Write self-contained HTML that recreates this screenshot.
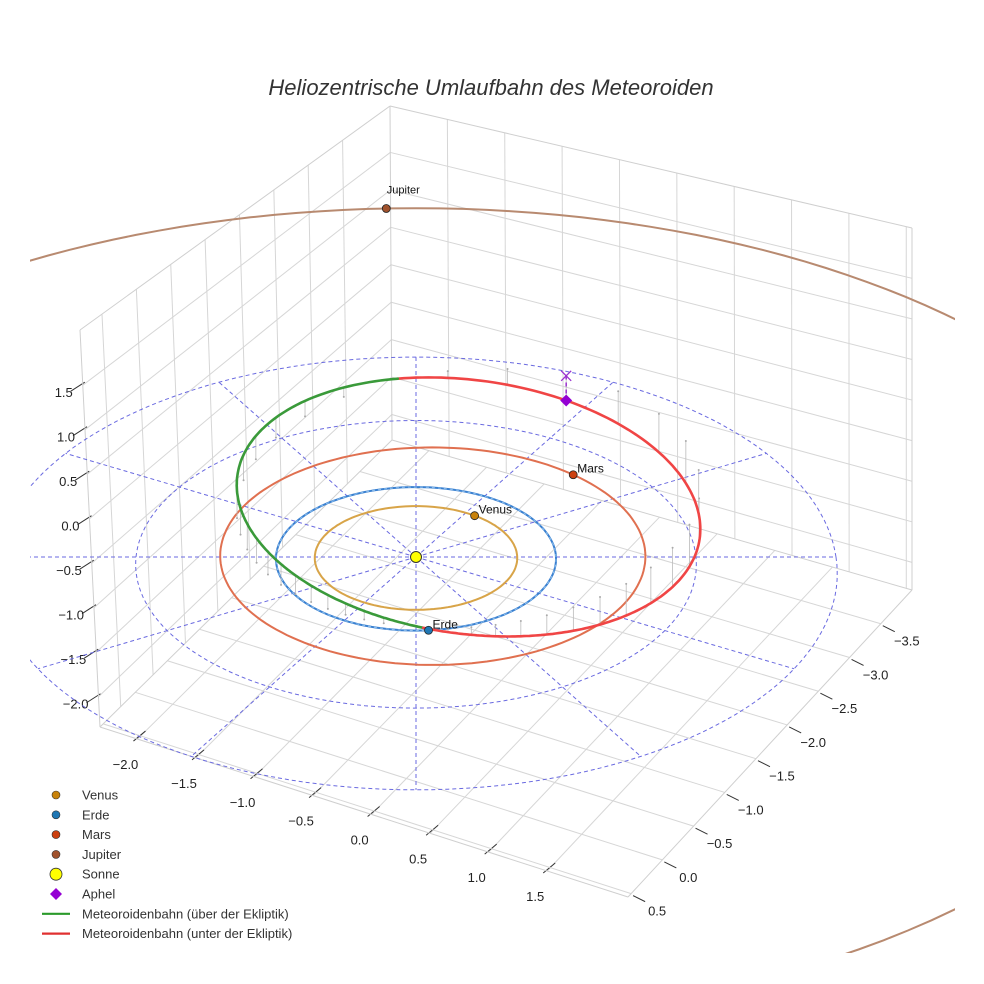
<!DOCTYPE html>
<html><head><meta charset="utf-8">
<style>
html,body{margin:0;padding:0;background:#fff;}
svg{display:block;font-family:"Liberation Sans",sans-serif;}
</style></head>
<body>
<svg id="chart" width="984" height="984" viewBox="0 0 984 984">
<defs><clipPath id="clip"><rect x="30" y="0" width="925" height="953"/></clipPath></defs>
<rect width="984" height="984" fill="#fff"/>
<text x="491" y="95" text-anchor="middle" font-size="22" font-style="italic" fill="#333">Heliozentrische Umlaufbahn des Meteoroiden</text>
<g id="grid"></g>
<g id="plot" clip-path="url(#clip)"></g>
<g id="legend"></g>
</svg>
<script>
// ---- data ----
const planetNames = ["Venus","Erde","Mars","Jupiter"];
const orbitRadius = [0.723, 1.0, 1.52, 5.55];
const orbitCenterX = [0, 0, 0.12, 0];
const orbitCenterY = [0, 0, 0.07, 0];
const planetAngle = [54, -85, 47, 92.5];
const planetColor = ["#c8820a","#1f77b4","#cc4010","#a0522d"];
const orbitColor = ["#d8a448","#3a80d0","#e07050","#b88a70"];
const meteorA = 1.93, meteorE = 0.52, meteorPeriLon = 247, meteorNode = 25, meteorSinI = 0.266;
const refRings = [2, 3];
const radialAngles = [0,30,60,90,120,150,180,210,240,270,300,330];
const axis1Ticks = ["−2.0","−1.5","−1.0","−0.5","0.0","0.5","1.0","1.5"];
const axis1Vals = [-2,-1.5,-1,-0.5,0,0.5,1,1.5];
const axis2Ticks = ["0.5","0.0","−0.5","−1.0","−1.5","−2.0","−2.5","−3.0","−3.5"];
const axis2Vals = [0.5,0,-0.5,-1,-1.5,-2,-2.5,-3,-3.5];
const zTicks = ["1.5","1.0","0.5","0.0","−0.5","−1.0","−1.5","−2.0"];
const zVals = [1.5,1,0.5,0,-0.5,-1,-1.5,-2];

// ---- projection ----
const D = 39.4, CX = 416, CY = 557, SX = 140, SY = 71.7, SZ = 80;
function proj(x,y,z){ const f = D/(D+y); return [CX+SX*x*f, CY-(SY*y+SZ*z)*f]; }
const NS="http://www.w3.org/2000/svg";
function mk(tag,attrs,parent){const e=document.createElementNS(NS,tag);for(const k in attrs)e.setAttribute(k,attrs[k]);parent.appendChild(e);return e;}
const grid=document.getElementById('grid'), plot=document.getElementById('plot'), legend=document.getElementById('legend');

// ---- box ----
const TL=[80,330],TB=[390,106],TR=[912,228],BL=[100,727],BB=[392,440],BR=[912,590],BF=[628,897];
function lerp(a,b,t){return [a[0]+(b[0]-a[0])*t,a[1]+(b[1]-a[1])*t];}
function gl(p,q,c,w){const l=mk('line',{x1:p[0],y1:p[1],x2:q[0],y2:q[1],stroke:c||'#d6d6d6','stroke-width':w||1},grid);return l;}
const a1lo=-2.32,a1hi=2.19, a2lo=0.55,a2hi=-4.0, zlo=-2.34,zhi=2.12;
axis1Vals.forEach((v,i)=>{const t=(v-a1lo)/(a1hi-a1lo);
  const l1=gl(lerp(BL,BF,t),lerp(BB,BR,t));  
  const l2=gl(lerp(BL,BB,t),lerp(TL,TB,t));  
  const p=lerp(BL,BF,t); const tk=gl([p[0]-4,p[1]+2],[p[0]+8,p[1]-8],'#333',1);  
  const tx=mk('text',{x:p[0]-12,y:p[1]+30,'font-size':13,fill:'#222','text-anchor':'middle'},grid); tx.textContent=axis1Ticks[i];
   });
axis2Vals.forEach((v,i)=>{const s=(v-a2lo)/(a2hi-a2lo);
  const l1=gl(lerp(BF,BR,s),lerp(BL,BB,s));  
  const l2=gl(lerp(BB,BR,1-s),lerp(TB,TR,1-s));  
  const p=lerp(BF,BR,s); const tk=gl([p[0]+2,p[1]+2],[p[0]+14,p[1]+8],'#333',1);  
  const tx=mk('text',{x:p[0]+26,y:p[1]+22,'font-size':13,fill:'#222','text-anchor':'middle'},grid); tx.textContent=axis2Ticks[i];
   });
zVals.forEach((v,i)=>{const t=(v-zlo)/(zhi-zlo);
  const l1=gl(lerp(BL,TL,t),lerp(BB,TB,t));  
  const l2=gl(lerp(BB,TB,t),lerp(BR,TR,t));  
  const p=lerp(BL,TL,t); const tk=gl([p[0]-12,p[1]+6],[p[0]+2,p[1]-3],'#333',1);  
  const tx=mk('text',{x:p[0]-10,y:p[1]+12,'font-size':13,fill:'#222','text-anchor':'end'},grid); tx.textContent=zTicks[i];
   });
[[BL,BF],[BF,BR],[BL,BB],[BB,BR],[BL,TL],[BB,TB],[BR,TR],[TL,TB],[TB,TR]].forEach(e=>{const l=gl(e[0],e[1],'#cfcfcf',1);
   });

// ---- helpers ----
function pathFrom(pts){return pts.map((p,i)=>(i?'L':'M')+p[0].toFixed(1)+' '+p[1].toFixed(1)).join(' ');}
function circlePts(cx,cy,r){const pts=[];for(let a=0;a<=360;a+=2){const t=a*Math.PI/180;pts.push(proj(cx+r*Math.cos(t),cy+r*Math.sin(t),0));}return pts;}

// reference rings & radials
refRings.forEach(r=>{const p=mk('path',{d:pathFrom(circlePts(0,0,r)),fill:'none',stroke:'#6a6ae0','stroke-width':1,'stroke-dasharray':'4 3'},plot);
   });
radialAngles.forEach(a=>{const t=a*Math.PI/180, R=refRings[refRings.length-1];const p0=proj(0,0,0),p1=proj(R*Math.cos(t),R*Math.sin(t),0);
  const l=mk('line',{x1:p0[0],y1:p0[1],x2:p1[0],y2:p1[1],stroke:'#6a6ae0','stroke-width':1,'stroke-dasharray':'4 3'},plot);
   });

// planet orbits
planetNames.forEach((n,i)=>{const p=mk('path',{d:pathFrom(circlePts(orbitCenterX[i],orbitCenterY[i],orbitRadius[i])),fill:'none',stroke:orbitColor[i],'stroke-width':2},plot);
   });
const ed=mk('path',{d:pathFrom(circlePts(0,0,1)),fill:'none',stroke:'#8fc0ee','stroke-width':1,'stroke-dasharray':'3 3'},plot);
 

// meteoroid orbit
function meteor(nu){const t=nu*Math.PI/180;const r=meteorA*(1-meteorE*meteorE)/(1+meteorE*Math.cos(t));
  const L=(nu+meteorPeriLon)*Math.PI/180;return [r*Math.cos(L),r*Math.sin(L),-r*meteorSinI*Math.sin((nu-meteorNode)*Math.PI/180)];}
for(let nu=0;nu<360;nu+=9){const m=meteor(nu);if(Math.abs(m[2])<0.04)continue;const a=proj(m[0],m[1],m[2]),b=proj(m[0],m[1],0);
  const l=mk('line',{x1:a[0],y1:a[1],x2:b[0],y2:b[1],stroke:'#bbb','stroke-width':0.8},plot);
   
  const c=mk('circle',{cx:b[0],cy:b[1],r:1,fill:'#aaa'},plot);  }
let seg=[],segUp=null;
function flush(){if(seg.length>1){const p=mk('path',{d:pathFrom(seg),fill:'none',stroke:segUp?'#3a9a3a':'#f04545','stroke-width':2.6,'stroke-linecap':'round'},plot);
   }}
for(let nu=0;nu<=360;nu+=1){const m=meteor(nu);const up=m[2]>=0;const pt=proj(m[0],m[1],m[2]);
  if(segUp!==null&&up!==segUp){seg.push(pt);flush();seg=[seg[seg.length-1]];}
  segUp=up;seg.push(pt);}
flush();

// aphelion
const ap=meteor(180), apP=proj(ap[0],ap[1],ap[2]), apE=proj(ap[0],ap[1],0);
const apl=mk('line',{x1:apP[0],y1:apP[1],x2:apE[0],y2:apE[1],stroke:'#9a30d0','stroke-width':1.5,'stroke-dasharray':'4 3'},plot);
 
const apx=mk('path',{d:`M${apE[0]-5} ${apE[1]-5}L${apE[0]+5} ${apE[1]+5}M${apE[0]+5} ${apE[1]-5}L${apE[0]-5} ${apE[1]+5}`,stroke:'#9a30d0','stroke-width':1.3,fill:'none'},plot);
 
const apd=mk('path',{d:`M${apP[0]} ${apP[1]-6}L${apP[0]+6} ${apP[1]}L${apP[0]} ${apP[1]+6}L${apP[0]-6} ${apP[1]}Z`,fill:'#9400d3'},plot);
 

// planets
planetNames.forEach((n,i)=>{const t=planetAngle[i]*Math.PI/180;const x=orbitCenterX[i]+orbitRadius[i]*Math.cos(t),y=orbitCenterY[i]+orbitRadius[i]*Math.sin(t);
  const p=proj(x,y,0);const c=mk('circle',{cx:p[0],cy:p[1],r:4,fill:planetColor[i],stroke:'#222','stroke-width':0.8},plot);
   
  const lx = n==='Jupiter'? p[0]+17 : p[0]+4, ly = n==='Jupiter'? p[1]-15 : p[1]-2;
  const tx=mk('text',{x:lx,y:ly,'font-size':n==='Jupiter'?11:12,fill:'#111','text-anchor':n==='Jupiter'?'middle':'start'},plot);tx.textContent=n;
   });
const sp=proj(0,0,0);const sun=mk('circle',{cx:sp[0],cy:sp[1],r:5.5,fill:'#ffff00',stroke:'#333','stroke-width':1},plot);
 

// legend
const legItems=[["Venus","dot","#c8820a"],["Erde","dot","#1f77b4"],["Mars","dot","#cc4010"],["Jupiter","dot","#a0522d"],["Sonne","sun","#ffff00"],["Aphel","diamond","#9400d3"],["Meteoroidenbahn (über der Ekliptik)","line","#2a9a2a"],["Meteoroidenbahn (unter der Ekliptik)","line","#e03030"]];
legItems.forEach((it,i)=>{const y=795+i*19.8;let m;
  if(it[1]==='dot')m=mk('circle',{cx:56,cy:y,r:4,fill:it[2],stroke:'#333','stroke-width':0.6},legend);
  else if(it[1]==='sun')m=mk('circle',{cx:56,cy:y,r:6,fill:it[2],stroke:'#333','stroke-width':0.8},legend);
  else if(it[1]==='diamond')m=mk('path',{d:`M56 ${y-6}L62 ${y}L56 ${y+6}L50 ${y}Z`,fill:it[2]},legend);
  else m=mk('line',{x1:42,y1:y,x2:70,y2:y,stroke:it[2],'stroke-width':2.2},legend);
   
  const t=mk('text',{x:82,y:y+4.5,'font-size':13,fill:'#333'},legend);t.textContent=it[0];
   });
</script>
</body></html>
